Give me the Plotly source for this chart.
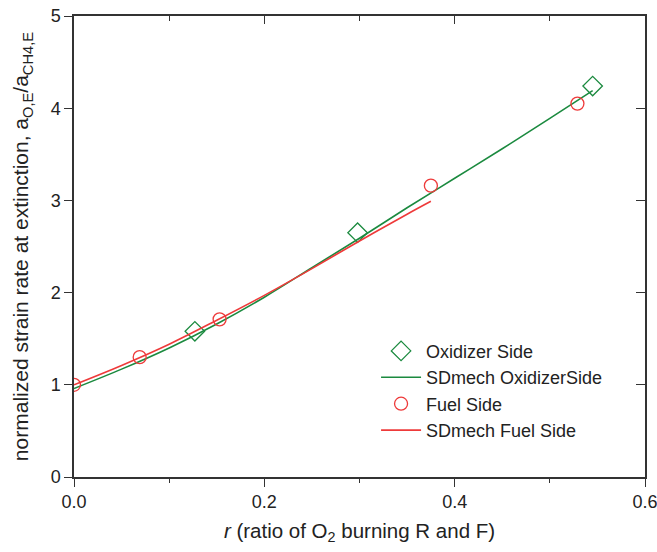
import plotly.graph_objects as go

# Measured points
ox_r = [0.127, 0.298, 0.545]
ox_a = [1.58, 2.65, 4.24]
fu_r = [0.0, 0.069, 0.153, 0.375, 0.529]
fu_a = [1.0, 1.30, 1.71, 3.16, 4.05]

# SDmech model curves
sd_ox_r = [0.0, 0.05, 0.1, 0.15, 0.2, 0.25, 0.3, 0.35, 0.4, 0.45, 0.5, 0.545]
sd_ox_a = [0.96, 1.17, 1.40, 1.66, 1.95, 2.27, 2.59, 2.92, 3.24, 3.56, 3.89, 4.19]
sd_fu_r = [0.0, 0.05, 0.1, 0.15, 0.2, 0.25, 0.3, 0.35, 0.375]
sd_fu_a = [1.0, 1.21, 1.44, 1.70, 1.97, 2.26, 2.56, 2.85, 2.99]

GREEN = "#1b8a3f"
RED = "#ee3a3a"
AX = "#333333"
FONT = "Liberation Sans, Arial, sans-serif"

fig = go.Figure()
fig.add_trace(go.Scatter(x=ox_r, y=ox_a, mode="markers", name="Oxidizer Side",
                         marker=dict(symbol="diamond-open", size=15, color=GREEN, line=dict(width=1.3))))
fig.add_trace(go.Scatter(x=sd_ox_r, y=sd_ox_a, mode="lines", name="SDmech OxidizerSide",
                         line=dict(color=GREEN, width=1.6, shape="spline")))
fig.add_trace(go.Scatter(x=fu_r, y=fu_a, mode="markers", name="Fuel Side",
                         marker=dict(symbol="circle-open", size=13, color=RED, line=dict(width=1.3))))
fig.add_trace(go.Scatter(x=sd_fu_r, y=sd_fu_a, mode="lines", name="SDmech Fuel Side",
                         line=dict(color=RED, width=1.6, shape="spline")))

fig.update_layout(
    width=657, height=552,
    margin=dict(l=74, r=12, t=16, b=75, autoexpand=False),
    plot_bgcolor="white", paper_bgcolor="white",
    font=dict(family=FONT, size=18, color="#222222"),
    showlegend=True,
    legend=dict(x=0.529, y=0.313, xanchor="left", yanchor="top",
                bgcolor="rgba(0,0,0,0)", font=dict(size=18), tracegroupgap=0,
                itemwidth=40),
    xaxis=dict(range=[0, 0.6], dtick=0.2, tickformat=".1f", ticks="outside", ticklen=8,
               tickcolor=AX, showline=True, linecolor=AX, linewidth=1.5, showgrid=False,
               zeroline=False, ticklabeloverflow="allow", automargin=False,
               minor=dict(dtick=0.1, ticks="outside", ticklen=4, tickcolor=AX),
               title=dict(text="<i>r</i> (ratio of O<sub>2</sub> burning R and F)",
                          font=dict(size=20.5), standoff=12)),
    yaxis=dict(range=[0, 5], dtick=1, ticks="outside", ticklen=8, tickcolor=AX,
               showline=True, linecolor=AX, linewidth=1.5, showgrid=False, zeroline=False,
               automargin=False,
               title=dict(text="normalized strain rate at extinction, a<sub>O,E</sub>/a<sub>CH4,E</sub>",
                          font=dict(size=21), standoff=16)),
    xaxis2=dict(range=[0, 0.6], dtick=0.2, overlaying="x", side="top", ticks="inside",
                ticklen=8, tickcolor=AX, showline=True, linecolor=AX, linewidth=1.5,
                minor=dict(dtick=0.1, ticks="inside", ticklen=5, tickcolor=AX),
                showticklabels=False, showgrid=False, zeroline=False, automargin=False),
    yaxis2=dict(range=[0, 5], dtick=1, overlaying="y", side="right", ticks="inside",
                ticklen=9, tickcolor=AX, showline=True, linecolor=AX, linewidth=1.5,
                showticklabels=False, showgrid=False, zeroline=False, automargin=False),
)
# invisible trace to activate the mirror axes
fig.add_trace(go.Scatter(x=[0], y=[0], xaxis="x2", yaxis="y2", mode="markers",
                         marker=dict(opacity=0), showlegend=False, hoverinfo="skip"))

fig.write_html("out.html")
